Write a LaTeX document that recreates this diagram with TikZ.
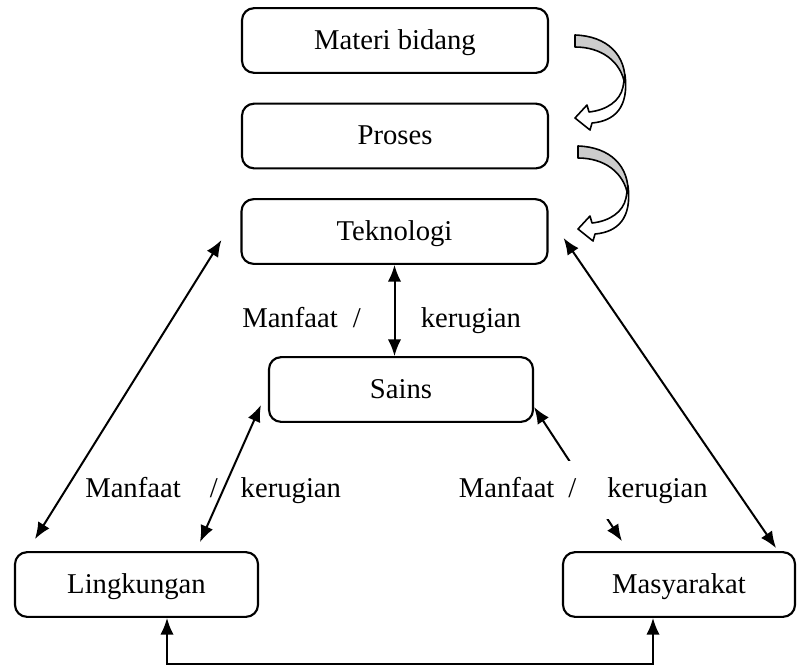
\documentclass[tikz,border=0pt]{standalone}
\usepackage{fontspec}
\setmainfont{Liberation Serif}
\usepackage{tikz}
\usetikzlibrary{calc}
\usetikzlibrary{arrows.meta}
\tikzset{>={Latex[length=12.5pt,width=10pt]}}
\tikzset{
  box/.style={draw, rounded corners=9pt, line width=1.6pt, inner sep=0pt, minimum height=48.5pt,
    text height=16pt, text depth=3.2pt, font=\fontsize{21.5}{24}\selectfont},
  link/.style={<->, line width=1.5pt},
  tag/.style={anchor=base west, inner sep=0pt, font=\fontsize{21.5}{24}\selectfont},
  curvearrow/.pic={
    \filldraw[fill=gray!40, line width=1.2pt, line join=round] (0,0) .. controls (32,1) and (52,20) .. (50,50)
      .. controls (46,26) and (26,12) .. (0,12) -- cycle;
    \filldraw[fill=white, line width=1.2pt, line join=round] (50,40) .. controls (54,72) and (40,86) .. (17,88)
      -- (15,95) -- (0,83) -- (12,70) -- (14,77) .. controls (32,75) and (45,66) .. (48,52) -- cycle;
  }
}

\begin{document}
\begin{tikzpicture}[x=0.75pt, y=-0.75pt]
            \useasboundingbox (0,0) rectangle (798,665);
            \node[box, minimum width=229.5pt] (materi) at (395,40.5) {Materi bidang};
            \node[box, minimum width=229.5pt] (proses) at (395,136) {Proses};
            \node[box, minimum width=229.5pt] (tek) at (394.5,231.5) {Teknologi};
            \node[box, minimum width=198pt] (sains) at (401,389.5) {Sains};
            \node[box, minimum width=182.25pt] (ling) at (136.5,584.5) {Lingkungan};
            \node[box, minimum width=174pt] (mas) at (679,584.5) {Masyarakat};
            \pic at (575,35) {curvearrow};
            \pic at (578,146) {curvearrow};
            \draw[link] (tek.south) -- (tek.south |- sains.north);
            \draw[link] ($(tek.west)+(-19,8.5)$) -- ($(ling.north west)+(21,-12)$);
            \draw[link] ($(tek.east)+(15,6.5)$) -- ($(mas.north east)+(-20,-3)$);
            \draw[link] ($(sains.west)+(-7,15.5)$) -- ($(ling.north)+(63.5,-9)$);
            \draw[link] ($(sains.east)+(0,17.5)$) -- ($(mas.north west)+(60,-10)$);
            \draw[link] ($(ling.south)+(30.5,0)$) -- ++(0,46) -| ($(mas.south)+(-26,0)$);
            \node[tag] (tagtek) at (242,327) {Manfaat\hspace{11.25pt}/\hspace{45pt}kerugian};
            \node[tag] (tagling) at (85,497) {Manfaat\hspace{21.75pt}/\hspace{17.25pt}kerugian};
            \node[tag, fill=white, inner xsep=2pt, inner ysep=12pt] (tagmas) at (456,497) {Manfaat\hspace{10.5pt}/\hspace{23.25pt}kerugian};
        \end{tikzpicture}
\end{document}
